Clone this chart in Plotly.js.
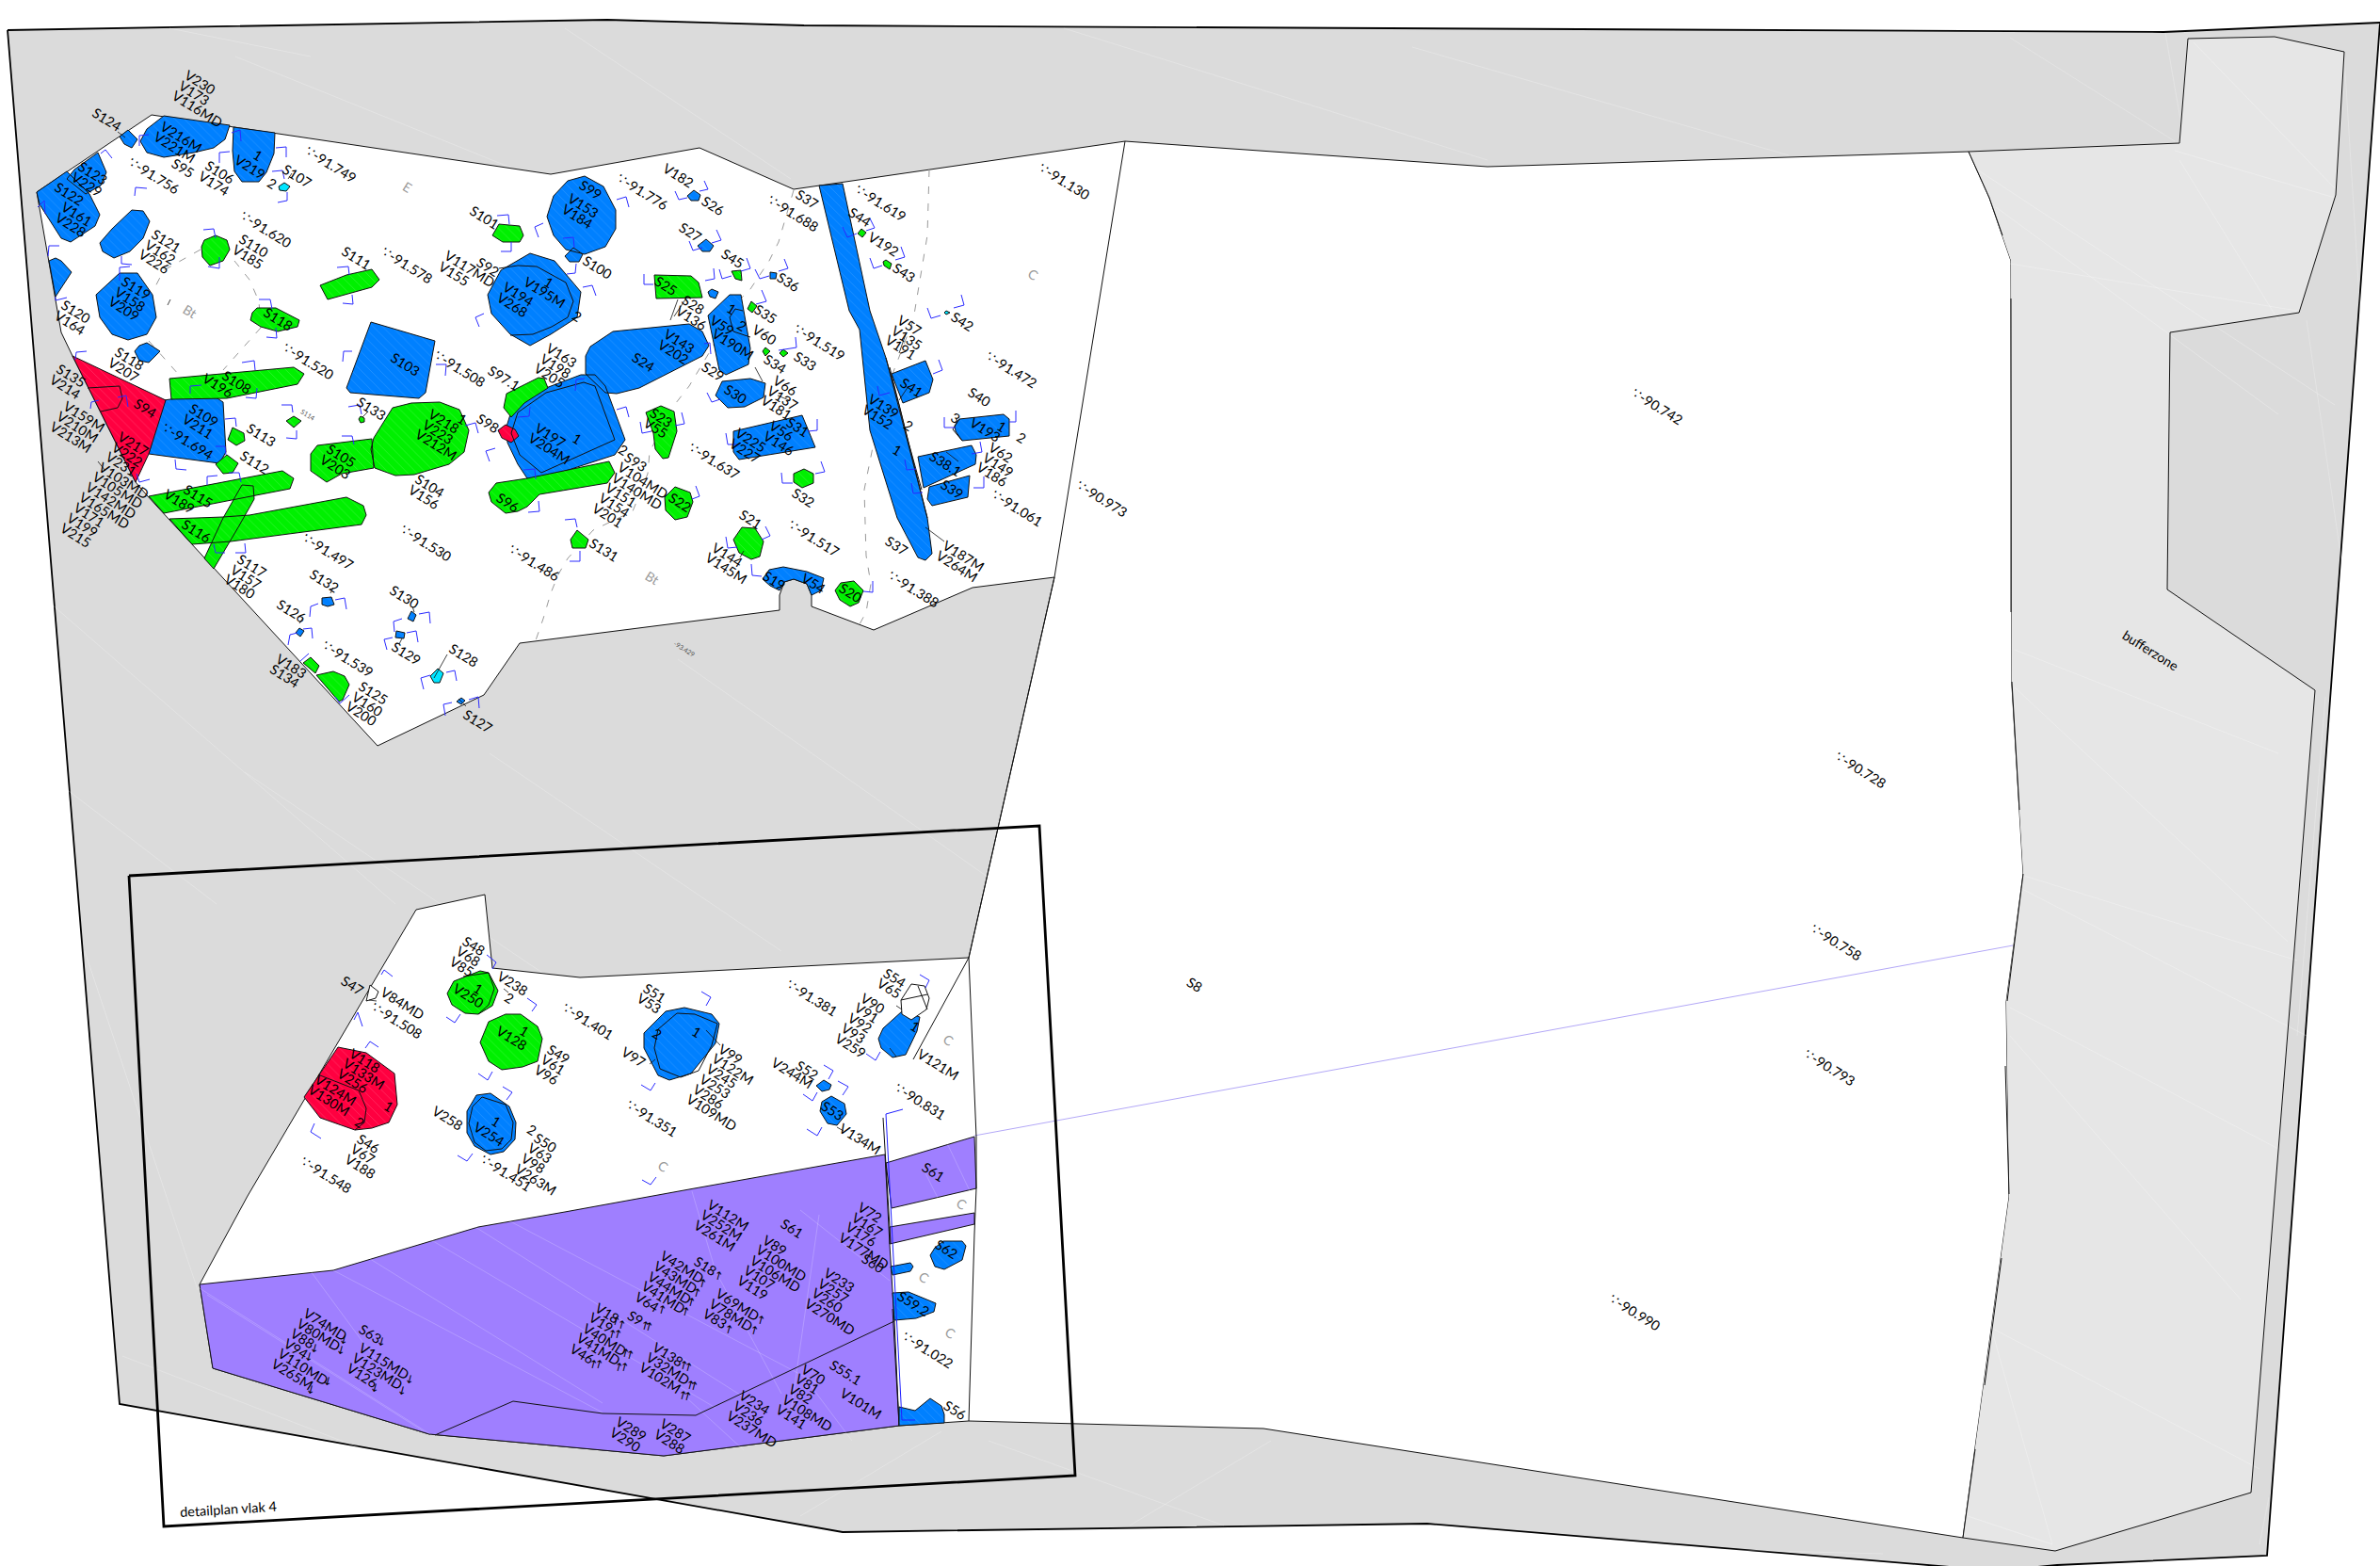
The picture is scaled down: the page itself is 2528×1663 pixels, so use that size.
<!DOCTYPE html>
<html><head><meta charset="utf-8">
<script src="https://cdn.plot.ly/plotly-3.0.1.min.js"></script>
<style>html,body{margin:0;padding:0;background:#fff}#plot{width:2528px;height:1663px}</style>
</head><body><div id="plot"></div>
<script>
// ---------- site outlines (flat x,y lists) ----------
const siteOutline=[8,32,645,21,854,27,2298,34,2528,24,2408,1652,2185,1662,2120,1668,1516,1618,895,1627,127,1491];
const pitOutline=[161,122,585,185,743,157,843,201,1195,150,1580,177,2091,161,2113,210,2136,277,2137,728,2149,928,2131,1064,2134,1271,2085,1633,1342,1517,1029,1509,955,1514,705,1546,456,1523,226,1453,212,1364,263,1270,442,966,515,950,523,1028,616,1038,1029,1017,1120,613,1033,624,928,669,862,644,862,632,857,620,843,615,833,618,828,632,828,648,700,664,552,683,514,738,401,792,156,526,144,512,77,378,65,353,39,204];
const bufferOutline=[2091,161,2315,152,2324,41,2416,39,2490,55,2481,207,2442,332,2305,353,2302,626,2459,733,2391,1585,2183,1647,2085,1633,2134,1271,2131,1064,2149,928,2137,728,2136,277,2113,210];
const purpleShapes=[
[212,1364,354,1349,508,1303,600,1287,732,1263,940,1226,945,1322,950,1403,955,1514,705,1546,456,1523,226,1453],
[941,1235,1035,1207,1037,1262,947,1283],
[945,1303,1035,1288,1035,1300,945,1321]];
const detailFrame=[137,930,1104,877,1142,1567,174,1621,137,930];
const blackLines=[
[2091,161,2113,210,2127,250],[2136,317,2136,650],[2137,724,2145,860],[2149,928,2132,1063],[2130,1132,2134,1268],[2126,1336,2108,1471],[2098,1539,2085,1633],
[2091,161,2315,152,2324,41,2416,39,2490,55,2481,207,2442,332,2305,353,2302,626,2459,733,2391,1585,2183,1647,2085,1633],
[1195,150,1120,613,1029,1017,1037,1207,1037,1262,1035,1310,1029,1509],[1029,1017,970,1125],
[938,1187,946,1320],[948,1390,955,1514]];
const sightLine=[1035,1206,2138,1004];
const planBlue=[[941,1183,958,1508,972,1508],[941,1183,959,1178]];
const dashA=[987,180,985,250,970,340,945,405,930,460,918,520,920,590,925,620,920,650,913,663];
const dashB=[843,202,835,230,827,257,817,277,797,307,777,327,756,370,732,410,714,433,690,480,688,503,672,543,643,557,630,563,603,593,593,610,585,630,577,657,569,680];
const dashC=[213,265,174,287,162,310];
const dashD=[249,277,265,297,275,320,277,348];
const dashE=[277,348,237,393];
const dashF=[158,362,190,398];
// ---------- features ----------
const blueShapes=[
[127,145,136,138,146,148,140,157,132,153],
[174,123,244,133,239,148,227,157,206,162,174,167,156,162,149,150,156,137],
[248,135,292,141,291,163,283,183,275,193,257,193,249,182,247,160],
[104,162,113,183,107,197,91,206,71,190,79,180],
[39,204,71,182,95,206,106,228,101,240,75,257,65,253,42,217],
[140,223,152,224,159,235,152,253,138,267,121,274,109,267,106,258,119,243],
[59,274,65,277,76,289,59,315,52,277],
[127,290,146,290,162,313,166,337,156,355,136,361,119,355,106,337,102,313],
[156,364,170,373,158,385,148,383,143,373,148,367],
[394,342,462,362,452,417,445,423,372,417,368,412],
[603,192,621,187,641,198,654,223,654,243,643,262,621,270,601,265,588,250,581,230,588,208],
[609,263,619,270,615,278,605,278,600,272],
[563,269,589,277,617,310,613,337,585,355,563,367,542,355,522,333,518,313,532,287],
[737,202,744,207,742,213,734,213,730,208],
[750,254,758,261,754,267,746,267,741,261],
[818,289,825,290,824,296,818,296],
[756,307,763,310,760,317,754,315,752,310],
[775,313,787,313,797,370,795,387,771,398,764,393,752,335],
[651,352,732,344,746,352,753,367,746,378,679,412,655,418,643,417,622,397,622,378,627,368],
[767,405,797,402,813,407,811,422,791,432,773,433,760,420],
[779,458,852,441,866,475,785,488,779,480],
[810,615,817,605,832,602,857,607,875,614,872,627,862,632,857,620,843,615,833,618,828,627,818,622],
[870,197,895,195,924,330,941,380,985,550,990,588,983,595,975,592,953,550,924,457,913,350,902,330],
[947,397,983,383,991,403,987,417,959,428],
[1019,445,1066,440,1072,445,1072,463,1022,468,1015,458,1014,452],
[975,485,1032,473,1037,483,1036,493,981,518],
[987,517,1030,505,1028,528,990,537,985,530],
[617,398,632,398,643,410,664,467,653,483,570,510,560,508,550,493,539,470,538,453,543,437,572,415],
[174,425,223,418,237,427,240,480,233,492,158,482],
[342,635,352,634,355,642,348,644,342,642],
[318,667,323,670,319,676,314,672],
[437,649,442,653,439,660,433,657],
[421,670,430,672,429,678,420,677],
[490,741,494,744,490,748,485,745],
[506,1163,521,1161,541,1175,548,1192,547,1210,535,1223,521,1226,504,1217,496,1203,496,1180],
[707,1074,727,1070,756,1077,764,1087,760,1108,734,1140,711,1147,699,1142,684,1113,684,1097],
[958,1074,977,1080,974,1095,962,1120,948,1123,936,1113,933,1103,938,1092],
[875,1147,883,1152,881,1157,873,1159,867,1153],
[883,1164,897,1172,899,1183,889,1195,879,1193,871,1180,873,1170],
[1002,1318,1022,1318,1026,1323,1022,1338,1003,1348,993,1345,988,1333,993,1325],
[946,1345,967,1341,970,1345,967,1350,948,1354],
[948,1373,965,1372,994,1384,992,1393,973,1400,950,1402],
[955,1494,972,1498,988,1485,1000,1493,1003,1502,1003,1511,955,1514]];
const greenShapes=[
[229,250,241,255,244,265,237,277,223,282,215,273,214,262,217,255],
[273,327,293,327,318,340,316,347,295,352,277,347,266,340,268,332],
[340,303,368,292,395,286,403,297,395,305,348,318],
[530,238,552,240,556,250,552,257,534,257,523,250],
[777,288,787,287,788,298,781,296],
[695,292,734,293,742,300,746,316,697,317],
[798,320,804,325,799,332,794,328],
[813,369,818,373,813,378,810,373],
[832,371,837,375,832,379,828,375],
[686,438,702,431,716,437,719,458,710,486,704,487,696,477,694,460],
[854,498,864,503,864,513,852,518,843,512,843,503],
[717,517,733,523,736,533,730,549,717,552,707,542,706,528],
[788,560,802,561,811,575,807,591,798,594,785,587,779,573],
[893,619,907,617,917,627,912,640,903,644,892,637,887,627],
[915,243,920,247,916,252,911,248],
[941,276,947,280,945,286,939,282,938,278],
[538,418,572,401,578,402,582,412,557,428,543,443,535,433],
[337,473,395,466,397,497,363,503,347,512,330,500,330,482],
[397,465,417,433,437,428,467,427,488,435,498,457,493,480,477,493,440,504,420,505,398,497,394,477],
[527,513,560,508,647,490,653,502,645,513,573,525,560,538,550,543,537,545,522,533,519,523],
[613,563,625,573,622,582,608,582,606,573],
[383,442,387,444,387,448,383,449,381,445],
[247,454,259,460,260,468,251,473,242,467],
[241,483,253,492,247,502,237,503,229,493],
[312,442,320,447,312,454,304,447],
[180,402,312,390,323,397,316,408,241,423,182,424],
[158,527,300,500,312,508,308,519,174,545],
[180,551,237,549,265,547,368,528,386,537,389,547,384,557,245,575,204,578],
[257,515,269,516,270,530,253,560,227,604,217,593,237,550],
[330,698,339,707,335,715,322,704],
[336,717,354,713,366,718,371,727,364,743,360,745],
[510,1031,519,1033,529,1052,523,1068,508,1077,494,1076,480,1067,475,1055,482,1042],
[537,1077,553,1077,571,1090,576,1103,571,1127,555,1133,533,1136,519,1127,510,1107,519,1085]];
const redShapes=[
[77,378,176,425,158,482,144,512],
[537,451,547,456,551,463,543,470,533,465,529,457],
[359,1112,389,1118,419,1140,422,1173,413,1192,395,1198,377,1200,340,1187,323,1165]];
const cyanShapes=[
[302,194,308,198,304,203,297,202,296,198],
[465,710,471,715,467,725,461,725,457,718],
[1005,330,1009,332,1005,334,1003,332]];
const whiteShapes=[
[968,1045,982,1047,987,1060,984,1072,968,1083,958,1077,957,1062],
[393,1046,402,1053,399,1060,389,1063]];
const innerLines=[
[530,285,550,282,570,283,601,300,609,320,603,337,586,347,566,355,542,356],
[789,330,781,328,775,337,779,352,797,358],
[941,380,955,430,985,550],[945,390,965,470,979,520],
[1019,445,1012,456,1022,468],
[620,406,632,410,653,467,575,502,552,483,543,460,550,438,580,417,620,406],
[93,412,127,410,130,423,125,433,107,437],
[492,1037,519,1033,525,1050,519,1067,508,1077],
[340,1142,381,1158,389,1177,387,1192,377,1200],
[512,1165,537,1173,545,1192,543,1210,533,1220,516,1222,504,1213,498,1193,502,1175,512,1165],
[719,1076,738,1077,762,1087,756,1110,742,1137,723,1144,701,1135,695,1113,699,1093,719,1076],
[957,1062,985,1056],[975,1047,985,1072],
[462,1524,545,1488,640,1501,739,1503,950,1403]];
const leaders=[[125,140,133,146],[306,190,310,184],[181,318,178,324],[351,630,354,624],[318,662,322,656],[440,650,438,644],[427,678,424,684],[461,720,475,695],[487,742,495,750],[385,443,391,437],[112,500,104,490],[720,318,712,340],[728,318,716,336],[955,375,962,355],[955,425,965,410],[1005,480,1018,490],[802,390,810,405],[826,420,838,425],[786,592,790,585],[983,560,1003,575],[958,1072,952,1068],[945,1113,952,1122],[889,1197,896,1201],[750,1094,765,1110],[696,1125,690,1130],[400,1063,392,1062],[535,1050,540,1054]];
// ---------- blue section brackets ----------
const brackets=[
[148,155,148,144,158,143],[107,163,112,159,119,168],[233,173,233,162,244,161],[246,141,255,138,256,150],[293,157,304,156,304,167],[289,182,300,181,302,190],[295,215,305,213,305,204],[143,208,144,199,156,200],[51,272,52,261,63,261],[40,220,47,213,48,227],[129,272,129,280,140,281],[127,298,127,284,138,283],[59,315,59,319,71,316],[216,244,227,243,229,253],[221,283,233,285,233,273],[275,318,287,318,289,328],[283,358,294,359,293,348],[358,284,370,283,371,292],[364,322,375,323,374,313],[364,384,365,373,374,373],[463,387,474,387,473,399],[528,229,540,228,541,238],[532,267,543,267,543,257],[572,252,568,241,577,237],[598,253,609,252,610,263],[602,291,611,290,612,280],[509,347,505,337,514,333],[80,382,81,374,92,373],[96,434,97,427,105,425],[125,422,134,420,136,432],[202,418,202,410,214,409],[257,385,270,383,271,393],[261,422,272,423,273,412],[299,430,310,430,311,438],[304,465,315,466,315,457],[370,432,382,430,384,440],[363,463,374,463,376,472],[494,452,505,449,508,460],[186,488,187,498,198,499],[239,445,250,444,251,453],[229,474,239,474,240,483],[220,515,220,506,231,505],[243,502,254,502,256,512],[145,503,148,512,159,509],[227,578,229,587,239,587],[250,587,261,587,260,577],[329,655,330,644,338,641],[356,637,366,635,368,647],[306,685,308,674,316,672],[322,668,331,667,332,678],[419,671,418,660,427,657],[445,652,456,650,457,662],[411,690,408,679,417,677],[432,672,442,670,444,682],[450,732,447,720,457,717],[474,714,483,712,485,723],[473,760,471,748,480,746],[498,743,508,740,509,752],[319,702,328,694,328,694],[356,740,361,747,371,738],[520,490,516,479,526,476],[556,499,568,498,569,509],[561,544,573,543,572,532],[600,552,611,551,613,560],[605,596,616,596,616,585],
[655,212,665,209,668,220],[717,203,721,212,730,210],[748,192,752,201,743,203],[732,256,736,266,746,263],[761,244,766,255,756,258],[684,291,684,302,694,302],[749,298,759,296,758,285],[764,286,767,296,777,293],[793,274,797,285,787,288],[802,286,807,296,817,293],[833,275,837,285,827,288],[895,241,900,252,910,248],[924,232,929,242,920,245],[924,274,928,285,937,282],[957,262,961,273,951,276],[985,327,989,338,999,335],[1021,313,1024,324,1013,327],[619,305,629,303,633,314],[655,435,665,432,668,443],[611,415,612,403,621,402],[550,443,562,442,563,432],[748,365,754,364,755,376],[771,460,773,472,783,472],[858,458,868,457,868,445],[751,417,756,427,765,424],[809,308,814,320,803,323],[827,372,846,369,845,358],[680,448,682,460,692,458],[724,438,727,450,717,452],[997,382,1001,393,991,397],[932,410,934,420,945,417],[1003,443,1003,454,1015,454],[1072,448,1079,448,1079,436],[961,488,963,499,973,498],[1032,482,1043,480,1041,469],[968,513,970,524,980,523],[1034,518,1045,518,1045,506],[830,502,831,513,842,513],[872,490,876,501,866,503],[735,530,743,527,739,516],[771,570,773,582,783,581],[813,559,818,569,809,573],[798,599,799,611,809,612],[917,628,927,629,927,617],
[405,1035,408,1030,417,1037],[376,1083,380,1075,385,1090],[517,1014,527,1022,523,1029],[474,1080,483,1086,489,1077],[560,1060,570,1067,565,1074],[508,1140,518,1147,523,1138],[388,1113,393,1106,402,1112],[334,1193,330,1202,341,1209],[534,1154,544,1160,538,1168],[486,1227,496,1233,502,1225],[682,1253,691,1258,697,1250],[745,1053,755,1059,750,1068],[681,1152,691,1158,696,1150],[977,1035,987,1041,983,1049],[920,1119,930,1126,935,1117],[875,1131,885,1137,880,1146],[853,1162,863,1169,868,1160],[890,1148,901,1154,895,1163],[857,1199,868,1206,873,1197]];
// ---------- triangulation seams ----------
const greySeams=[[30,620,420,960],[60,830,230,960],[90,1010,210,1370],[130,1440,440,1560],[260,820,720,1130],[720,700,1090,960],[520,800,830,1010],[250,60,560,185],[180,30,330,60],[600,30,840,190],[1130,30,1580,170],[1500,50,1900,165],[2135,40,2310,150],[2300,35,2320,150],[2490,60,2510,380],[2450,340,2495,650],[2470,740,2440,1100],[2410,1590,2400,1640],[1050,1530,1300,1620],[1350,1530,1200,1620],[1600,1640,2000,1650],[850,1610,1000,1520]];
const bufferSeams=[[2100,180,2480,430],[2330,45,2480,200],[2120,220,2420,440],[2135,280,2440,330],[2310,160,2480,210],[2315,170,2420,340],[2140,690,2420,800],[2140,730,2430,1000],[2150,930,2440,1020],[2135,1070,2420,1220],[2135,1100,2380,1380],[2115,1410,2400,1560],[2090,1610,2180,1640],[2115,1410,2180,1640],[2140,940,2450,1100]];
const purpleSeams=[[212,1368,460,1525],[220,1375,450,1520],[330,1350,400,1445],[354,1349,640,1500],[390,1335,640,1490],[455,1315,760,1495],[505,1303,800,1490],[540,1296,870,1470],[735,1265,760,1350],[760,1350,830,1480],[840,1500,870,1290],[850,1285,945,1360],[730,1485,790,1540],[860,1470,905,1530],[980,1240,1000,1280],[1005,1212,1035,1275]];
// ---------- labels: x, y (start of first line), lines separated by | ----------
const featureLabels=[
[198,78,"V230|V173|V116MD"],[99,118,"S124"],[184,172,"S95"],[219,174,"S106|V174"],[270,162,"1"],[251,168,"V219"],[285,192,"2"],[301,178,"S107"],[172,133,"V216M|V221M"],
[84,175,"S123|V229"],[59,197,"S122"],[67,218,"V161|V228"],[162,247,"S121|V162|V226"],[255,252,"S110|V185"],[66,322,"S120|V164"],[130,297,"S119|V158|V209"],[123,372,"S118|V207"],[281,330,"S118"],[364,265,"S111"],[500,222,"S101"],[416,378,"S103"],[508,277,"S92"],[474,270,"V117MD|V155"],[579,297,"1"],[558,298,"V195M"],[536,303,"V194|V268"],[609,333,"2"],[61,390,"S135|V214"],[69,430,"V159M|V210M|V213M"],[144,427,"S94"],[237,397,"S108"],[217,400,"V196"],[202,432,"S109|V211"],[263,453,"S113"],[380,425,"S133"],[256,482,"S112"],[457,438,"V218|V223|V212M"],[487,442,"1"],[348,475,"S105|V203"],[442,507,"S104|V156"],[520,392,"S97.1"],[582,368,"V163|V198|V205"],[508,443,"S98"],[570,453,"V197|V204M"],[609,463,"1"],[658,475,"2"],[673,378,"S24"],[707,353,"V143|V202"],[529,527,"S96"],[665,484,"S93|V104MD|V140MD|V151|V154|V201"],[627,575,"S131"],[692,437,"S23|V55"],[712,527,"S22"],
[196,518,"S115"],[176,523,"V189"],[194,555,"S116"],[127,462,"V217|V222|V231|V103MD|V105MD|V142MD|V165MD|V171|V199|V215"],[253,592,"S117|V157|V180"],[330,608,"S132"],[415,625,"S130"],[295,640,"S126"],[417,685,"S129"],[478,687,"S128"],[493,757,"S127"],[295,698,"V183|S134"],[382,727,"S125|V160|V200"],
[617,195,"S99"],[605,209,"V153|V184"],[620,275,"S100"],[706,177,"V182"],[747,212,"S26"],[723,240,"S27"],[847,205,"S37"],[903,224,"S44"],[924,250,"V192"],[950,283,"S43"],[768,268,"S45"],[827,293,"S36"],[697,297,"S25"],[726,317,"S28|V136"],[773,325,"1"],[784,343,"2"],[803,327,"S35"],[756,338,"V59"],[758,353,"V190M"],[801,348,"V60"],[813,380,"S34"],[845,377,"S33"],[747,388,"S29"],[771,412,"S30"],[823,402,"V66|V137|V181"],[955,338,"V57|V135|V191"],[958,405,"S41"],[1030,415,"S40"],[1032,447,"V193"],[1060,450,"1"],[1081,462,"2"],[1011,441,"3"],[819,450,"V56|V146"],[837,447,"S31"],[783,458,"V225|V227"],[924,422,"V139|V152"],[961,449,"2"],[949,475,"1"],[989,483,"S38.1"],[1001,513,"S39"],[1052,473,"V62|V149|V186"],[843,522,"S32"],[787,545,"S21"],[758,580,"V144|V145M"],[812,610,"S19"],[853,612,"V54"],[893,623,"S20"],[942,573,"S37"],[1003,578,"V187M|V264M"],[1012,335,"S42"],
[406,1052,"V84MD"],[364,1040,"S47"],[493,998,"S48|V68|V85"],[530,1035,"V238"],[537,1057,"2"],[504,1047,"1"],[483,1048,"V250"],[553,1092,"1"],[529,1093,"V128"],[583,1113,"S49|V61|V96"],[373,1117,"V118|V133M|V256"],[336,1145,"V124M|V130M"],[409,1172,"1"],[378,1189,"2"],[381,1208,"S46|V67|V188"],[523,1188,"1"],[505,1195,"V254"],[461,1178,"V258"],[561,1197,"2"],[569,1207,"S50|V63|V98|V263M"],
[685,1048,"S51|V53"],[662,1115,"V97"],[694,1095,"2"],[736,1093,"1"],[765,1112,"V99|V122M|V245|V253|V286|V109MD"],[940,1032,"S54|V65"],[916,1058,"V90|V91|V92|V93|V259"],[968,1087,"1"],[976,1118,"V121M"],[847,1130,"S52"],[821,1127,"V244M"],[874,1173,"S53"],[893,1197,"V134M"],[981,1238,"S61"],[831,1298,"S61"],[913,1280,"V72|V167|V176|V177MD"],[753,1278,"V112M|V252M|V261M"],[812,1315,"V89|V100MD|V106MD|V107|V119"],[739,1338,"S18"],[703,1332,"V42MD|V43MD|V44MD|V41MD|V64"],[668,1395,"S9"],[762,1372,"V69MD|V78MD|V83"],[877,1350,"V233|V257|V260|V270MD"],[917,1335,"S60"],[995,1320,"S62"],[955,1375,"S59.2"],[1004,1491,"S56"],[883,1448,"S55.1"],[853,1452,"V70|V81|V82|V108MD|V141"],[894,1478,"V101M"],[787,1480,"V234|V236|V237MD"],[695,1429,"V138|V32MD|V102M"],[703,1510,"V287|V288"],[656,1508,"V289|V290"],[634,1387,"V18|V19|V40MD|V41MD|V46"],[324,1393,"V74MD|V80MD|V88|V94|V110MD|V265M"],[383,1410,"S63"],[383,1430,"V115MD|V123MD|V126"],[1262,1041,"S8"],[2256,673,"bufferzone"]];
const elevX=[138,326,257,407,302,463,174,323,427,542,344,657,817,910,1105,845,1049,733,1055,839,945,1145,1735,1951,1925,1918,1711,396,599,321,512,667,837,952,960];
const elevY=[170,158,227,265,367,375,452,569,560,581,683,187,210,199,176,347,376,473,523,555,609,513,415,801,984,1117,1377,1067,1068,1231,1229,1171,1043,1153,1417];
const elevValues=["-91.756","-91.749","-91.620","-91.578","-91.520","-91.508","-91.694","-91.497","-91.530","-91.486","-91.539","-91.776","-91.688","-91.619","-91.130","-91.519","-91.472","-91.637","-91.061","-91.517","-91.388","-90.973","-90.742","-90.728","-90.758","-90.793","-90.990","-91.508","-91.401","-91.548","-91.451","-91.351","-91.381","-90.831","-91.022"];
const greyLabels=[[433,198,"E"],[202,330,"Bt"],[693,613,"Bt"],[1098,291,"C"],[705,1238,"C"],[1008,1104,"C"],[1022,1278,"C"],[982,1356,"C"],[1010,1415,"C"]];
const upArrows=[[763,1355],[746,1363],[740,1373],[734,1383],[728,1393],[703,1391],[685,1408],[689,1409],[808,1402],[801,1413],[774,1412],[726,1450],[731,1452],[733,1471],[737,1472],[725,1482],[730,1483],[654,1403],[660,1407],[650,1417],[656,1417],[664,1437],[669,1439],[657,1452],[663,1452],[630,1449],[636,1449]];
const downArrows=[[365,1423],[362,1434],[334,1432],[328,1441],[348,1467],[330,1476],[405,1425],[435,1465],[427,1477],[398,1474]];
const tinyLabels=[[320,436,"S114"],[717,682,"-93.429"]];
const frameCaption="detailplan vlak 4";
const frameCaptionPos=[242,1602];
// ---------- styles ----------
const FONT="Lato, 'Open Sans', sans-serif";
const LABEL_SIZE=14.5, ANGLE=32, LINE_DX=-6.8, LINE_DY=10.8;
const ctx=document.createElement('canvas').getContext('2d');
function xs(a){const r=[];for(let i=0;i<a.length;i+=2)r.push(a[i]);return r;}
function ys(a){const r=[];for(let i=1;i<a.length;i+=2)r.push(a[i]);return r;}
function joinPolys(list,close){const X=[],Y=[];list.forEach(p=>{X.push(...xs(p));Y.push(...ys(p));if(close){X.push(p[0]);Y.push(p[1]);}X.push(null);Y.push(null);});return[X,Y];}
function polyTrace(list,fill,lw,lc,pattern){const[X,Y]=joinPolys(list,true);const t={x:X,y:Y,mode:'lines',fill:'toself',fillcolor:fill,line:{color:lc||'#000',width:lw},hoverinfo:'skip',showlegend:false,type:'scatter'};
 if(pattern)t.fillpattern={shape:'\\',fgcolor:pattern,bgcolor:fill,size:7,solidity:0.1,fillmode:'replace'};return t;}
function lineTrace(list,color,width,dash){const[X,Y]=joinPolys(list,false);return{x:X,y:Y,mode:'lines',line:{color,width,dash:dash||'solid'},hoverinfo:'skip',showlegend:false,type:'scatter'};}
const traces=[
 polyTrace([siteOutline],'#dbdbdb',1.8),
 lineTrace(greySeams,'rgba(255,255,255,0.35)',0.7),
 polyTrace([pitOutline],'#ffffff',1,'#111'),
 polyTrace([bufferOutline],'#e6e6e6',0,'rgba(0,0,0,0)'),
 lineTrace(bufferSeams,'rgba(255,255,255,0.4)',0.7),
 lineTrace([sightLine],'#b3a8f7',1),
 polyTrace(purpleShapes,'#9f7fff',1,'#111'),
 lineTrace(purpleSeams,'rgba(255,255,255,0.3)',0.7),
 lineTrace(blackLines,'#111',1),
 lineTrace([dashA,dashB,dashC,dashD,dashE,dashF],'#999',1,'8px,10px'),
 polyTrace(blueShapes,'#0080ff',1,'#111','#2a95ff'),
 polyTrace(greenShapes,'#00f000',1,'#111','#35f535'),
 polyTrace(redShapes,'#ff0040',1,'#111','#ff3366'),
 polyTrace(cyanShapes,'#00e5ff',1,'#111'),
 polyTrace(whiteShapes,'#ffffff',1,'#111'),
 lineTrace(innerLines,'#111',1),
 lineTrace(leaders,'#111',0.8),
 lineTrace(planBlue,'#2020ff',1),
 lineTrace(brackets,'#2a2aff',1),
 lineTrace([detailFrame],'#000',2.8)
];
const ann=[];
function put(sx,sy,text,size,color,angle){ctx.font=size+'px Lato';const w=ctx.measureText(text).width,a=angle*Math.PI/180;
 ann.push({x:sx+Math.cos(a)*w/2,y:sy+Math.sin(a)*w/2,text,textangle:angle,showarrow:false,xanchor:'center',yanchor:'middle',font:{family:FONT,size,color},borderpad:0});}
featureLabels.forEach(l=>l[2].split('|').forEach((t,i)=>put(l[0]+i*LINE_DX,l[1]+i*LINE_DY,t,t==='bufferzone'?14:LABEL_SIZE,'#000',ANGLE)));
elevValues.forEach((v,i)=>put(elevX[i],elevY[i],'∵'+v,LABEL_SIZE,'#000',ANGLE));
greyLabels.forEach(l=>ann.push({x:l[0],y:l[1],text:l[2],textangle:ANGLE,showarrow:false,font:{family:FONT,size:14,color:'#999'}}));
tinyLabels.forEach(l=>put(l[0],l[1],l[2],7,'#555',ANGLE));
upArrows.forEach(p=>ann.push({x:p[0],y:p[1],text:'↑',textangle:15,showarrow:false,font:{family:'DejaVu Sans',size:12,color:'#000'}}));
downArrows.forEach(p=>ann.push({x:p[0],y:p[1],text:'↓',textangle:15,showarrow:false,font:{family:'DejaVu Sans',size:12,color:'#000'}}));
ann.push({x:frameCaptionPos[0],y:frameCaptionPos[1],text:frameCaption,textangle:-3.5,showarrow:false,font:{family:FONT,size:14.5,color:'#000'}});
Plotly.newPlot('plot',traces,{
 width:2528,height:1663,margin:{l:0,r:0,t:0,b:0,pad:0},paper_bgcolor:'#fff',plot_bgcolor:'#fff',showlegend:false,hovermode:false,
 xaxis:{range:[0,2528],visible:false,fixedrange:true},
 yaxis:{range:[1663,0],visible:false,fixedrange:true},
 annotations:ann},{displayModeBar:false,staticPlot:true});
</script></body></html>
